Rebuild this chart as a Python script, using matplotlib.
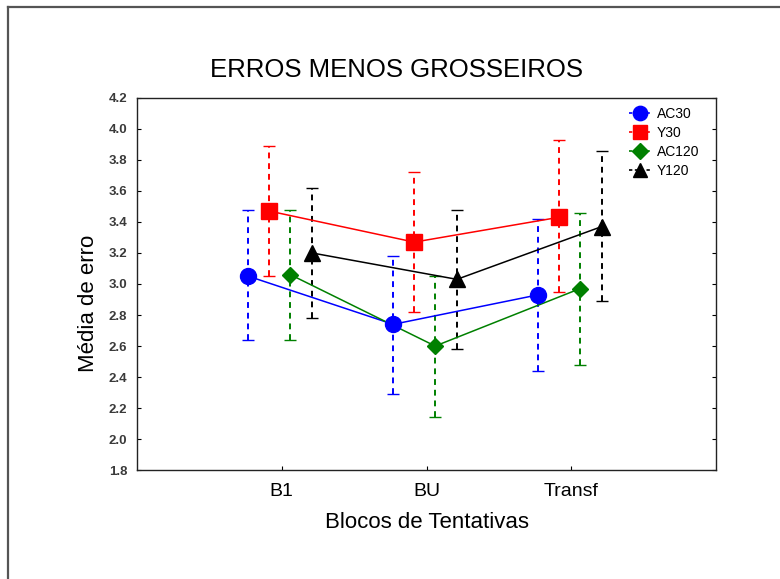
import matplotlib
matplotlib.use("Agg")
import matplotlib.pyplot as plt
from matplotlib.lines import Line2D

# Means and confidence limits (Statistica-style plot)
blocks = ["B1", "BU", "Transf"]
groups = ["AC30", "Y30", "AC120", "Y120"]

ac30_mean = [3.05, 2.74, 2.93]
ac30_lo = [2.64, 2.29, 2.44]
ac30_hi = [3.48, 3.18, 3.42]

y30_mean = [3.47, 3.27, 3.43]
y30_lo = [3.05, 2.82, 2.95]
y30_hi = [3.89, 3.72, 3.93]

ac120_mean = [3.06, 2.60, 2.97]
ac120_lo = [2.64, 2.14, 2.48]
ac120_hi = [3.48, 3.05, 3.46]

y120_mean = [3.20, 3.03, 3.37]
y120_lo = [2.78, 2.58, 2.89]
y120_hi = [3.62, 3.48, 3.86]

plt.rcParams.update({
    "font.family": ["Liberation Sans", "DejaVu Sans"],
    "figure.facecolor": "white",
    "axes.facecolor": "white",
})

fig = plt.figure(figsize=(7.8, 5.79), dpi=100)
ax = fig.add_axes([0.1756, 0.188, 0.7424, 0.643])

series = [
    (ac30_mean, ac30_lo, ac30_hi, "#0000ff", "o", 11.5, -0.23),
    (y30_mean, y30_lo, y30_hi, "#ff0000", "s", 11.0, -0.085),
    (ac120_mean, ac120_lo, ac120_hi, "#008000", "D", 8.5, 0.06),
    (y120_mean, y120_lo, y120_hi, "#000000", "^", 11.0, 0.21),
]

handles = []
for (mean, lo, hi, col, mk, ms, off), name in zip(series, groups):
    xs = [i + 1 + off for i in range(len(blocks))]
    yerr = [[m - l for m, l in zip(mean, lo)], [h - m for m, h in zip(mean, hi)]]
    eb = ax.errorbar(xs, mean, yerr=yerr, fmt="none", ecolor=col, elinewidth=1.4,
                     capsize=4, capthick=1.0, zorder=2)
    eb[2][0].set_linestyle((0, (3, 2.5)))
    ax.plot(xs, mean, "-", color=col, linewidth=1.1, zorder=3)
    ax.plot(xs, mean, mk, color=col, markersize=ms, markeredgecolor=col, zorder=4)
    handles.append(Line2D([], [], color=col, marker=mk, markersize=ms * 0.9,
                          linestyle=(0, (2, 1.5)), linewidth=1.2, label=name))

ax.set_xlim(0, 4)
ax.set_ylim(1.8, 4.2)
ax.set_xticks([1, 2, 3])
ax.set_xticklabels(blocks, fontsize=14)
ax.set_yticks([1.8 + 0.2 * i for i in range(13)])
ax.set_yticklabels([f"{1.8 + 0.2 * i:.1f}" for i in range(13)], fontsize=9.5,
                   fontweight="bold", color="#3a3a3a")
ax.tick_params(axis="both", direction="in", length=3, width=0.8, right=True)
ax.tick_params(axis="x", pad=9)
ax.tick_params(axis="y", pad=7)
for s in ax.spines.values():
    s.set_linewidth(1.0)
    s.set_color("#222222")

ax.legend(handles=handles, loc="upper left", bbox_to_anchor=(0.84, 0.99),
          frameon=False, fontsize=10, handlelength=1.6, handletextpad=0.4,
          labelspacing=0.35, borderaxespad=0)

fig.text(0.508, 0.879, "ERROS MENOS GROSSEIROS", ha="center", va="center", fontsize=18.5)
fig.text(0.113, 0.476, "Média de erro", ha="center", va="center", rotation=90, fontsize=16)
fig.text(0.547, 0.098, "Blocos de Tentativas", ha="center", va="center", fontsize=16)

# outer frame (top and left edges only, as in the scan)
fig.add_artist(Line2D([0.0103, 0.0103], [0.0, 0.988], transform=fig.transFigure,
                      color="#555555", linewidth=1.6))
fig.add_artist(Line2D([0.0103, 1.0], [0.988, 0.988], transform=fig.transFigure,
                      color="#555555", linewidth=1.6))

fig.savefig("out.png", dpi=100, facecolor="white")
